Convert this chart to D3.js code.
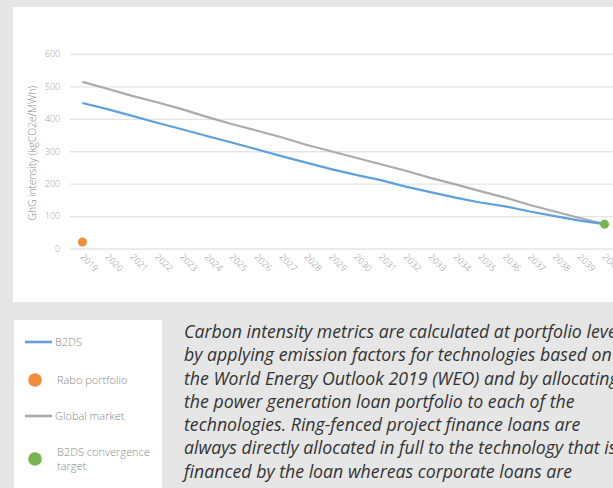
<!DOCTYPE html>
<html>
<head>
<meta charset="utf-8">
<script src="https://cdn.jsdelivr.net/npm/d3@7"></script>
<style>
  body { margin: 0; background: #e6e6e6; overflow: hidden; }
  svg { display: block; }
</style>
</head>
<body>
<div id="graphDiv"></div>
<script>
var years = [2019, 2020, 2021, 2022, 2023, 2024, 2025, 2026, 2027, 2028, 2029,
             2030, 2031, 2032, 2033, 2034, 2035, 2036, 2037, 2038, 2039, 2040];
var b2ds = [449, 430, 409, 388, 368, 347, 327, 306, 285, 265, 245,
            227, 211, 191, 174, 157, 142, 130, 114, 100, 86, 75];
var globalMarket = [514, 493, 471, 451, 430, 406, 384, 364, 343, 320, 300,
                    280, 260, 240, 218, 198, 177, 157, 134, 114, 94, 75];
var raboPortfolio = [{year: 2019, value: 20}];
var convergenceTarget = [{year: 2040, value: 75}];
var yTicks = [0, 100, 200, 300, 400, 500, 600];

var legendItems = [
  {label: ["B2DS"], kind: "line", color: "#5ea1dc"},
  {label: ["Rabo portfolio"], kind: "dot", color: "#f28d3b"},
  {label: ["Global market"], kind: "line", color: "#ababab"},
  {label: ["B2DS convergence", "target"], kind: "dot", color: "#78b54e"}
];

var bodyLines = [
  "Carbon intensity metrics are calculated at portfolio level",
  "by applying emission factors for technologies based on",
  "the World Energy Outlook 2019 (WEO) and by allocating",
  "the power generation loan portfolio to each of the",
  "technologies. Ring-fenced project finance loans are",
  "always directly allocated in full to the technology that is",
  "financed by the loan whereas corporate loans are"
];

var W = 613, H = 488;
var plot = {left: 70, right: 617, top: 54, bottom: 248.5};

var svg = d3.select("#graphDiv")
  .append("svg")
    .attr("width", W)
    .attr("height", H);

// white chart panel
svg.append("rect")
  .attr("x", 13).attr("y", 7)
  .attr("width", W).attr("height", 295)
  .attr("fill", "#ffffff");

var x = d3.scalePoint()
  .domain(years)
  .range([plot.left, plot.right])
  .padding(0.5);

var y = d3.scaleLinear()
  .domain([0, 600])
  .range([plot.bottom, plot.top]);

// gridlines + y labels
var yAxis = svg.append("g")
  .attr("transform", "translate(" + plot.left + ",0)")
  .call(d3.axisLeft(y).tickValues(yTicks).tickSize(-(W - plot.left)).tickPadding(10))
  .call(function(g) { g.select(".domain").remove(); });

yAxis.selectAll(".tick line")
  .attr("stroke", "#e4e4e4")
  .attr("stroke-width", 1.3);
yAxis.selectAll(".tick text")
  .attr("fill", "#9c9c9c")
  .style("font-family", "'Open Sans', sans-serif")
  .style("font-weight", 300)
  .style("font-size", "8.8px");

// x labels, rotated
var xAxis = svg.append("g")
  .attr("transform", "translate(0," + plot.bottom + ")")
  .call(d3.axisBottom(x).tickSize(0).tickPadding(0))
  .call(function(g) { g.select(".domain").remove(); });

xAxis.selectAll(".tick text")
  .attr("fill", "#929292")
  .style("font-family", "'Open Sans', sans-serif")
  .style("font-weight", 300)
  .style("font-size", "9px")
  .attr("text-anchor", "start")
  .attr("dy", "0")
  .attr("transform", "translate(-3,9) rotate(45)");

// Y label
svg.append("text")
  .attr("transform", "translate(36," + ((plot.top + plot.bottom) / 2 + 2) + ") rotate(-90)")
  .attr("text-anchor", "middle")
  .attr("fill", "#8a8a8a")
  .style("font-family", "'Open Sans', sans-serif")
  .style("font-weight", 300)
  .style("font-size", "10.3px")
  .text("GhG intensity (kgCO2e/MWh)");

// lines
var line = d3.line()
  .x(function(d, i) { return x(years[i]); })
  .y(function(d) { return y(d); });

svg.append("path")
  .datum(globalMarket)
  .attr("d", line)
  .attr("fill", "none")
  .attr("stroke", "#ababab")
  .attr("stroke-width", 2.2);

svg.append("path")
  .datum(b2ds)
  .attr("d", line)
  .attr("fill", "none")
  .attr("stroke", "#5ea1dc")
  .attr("stroke-width", 2.2);

// dots
svg.selectAll(".rabo")
  .data(raboPortfolio)
  .enter()
  .append("circle")
    .attr("cx", function(d) { return x(d.year); })
    .attr("cy", function(d) { return y(d.value); })
    .attr("r", 4.5)
    .attr("fill", "#f28d3b");

svg.selectAll(".target")
  .data(convergenceTarget)
  .enter()
  .append("circle")
    .attr("cx", function(d) { return x(d.year); })
    .attr("cy", function(d) { return y(d.value); })
    .attr("r", 4.5)
    .attr("fill", "#78b54e");

// legend box
svg.append("rect")
  .attr("x", 14).attr("y", 320)
  .attr("width", 148).attr("height", 180)
  .attr("fill", "#ffffff");

var legendY = [342, 380, 416, 459];
var legend = svg.selectAll(".legendItem")
  .data(legendItems)
  .enter()
  .append("g")
    .attr("transform", function(d, i) { return "translate(0," + legendY[i] + ")"; });

legend.filter(function(d) { return d.kind == "line"; })
  .append("line")
    .attr("x1", 25).attr("x2", 52)
    .attr("stroke", function(d) { return d.color; })
    .attr("stroke-width", 2.6);

legend.filter(function(d) { return d.kind == "dot"; })
  .append("circle")
    .attr("cx", 35)
    .attr("r", 6.8)
    .attr("fill", function(d) { return d.color; });

legend.append("text")
  .attr("fill", "#8a8a8a")
  .style("font-family", "'Open Sans', sans-serif")
  .style("font-weight", 300)
  .style("font-size", "11px")
  .attr("x", function(d) { return d.kind == "line" ? 55 : 57; })
  .attr("y", function(d) { return d.label.length > 1 ? -3.5 : 3.8; })
  .selectAll("tspan")
  .data(function(d) { return d.label; })
  .enter()
  .append("tspan")
    .attr("x", function() { return d3.select(this.parentNode).attr("x"); })
    .attr("dy", function(d, i) { return i == 0 ? 0 : 14.5; })
    .text(function(d) { return d; });

// body text next to legend
var body = svg.append("g")
  .attr("transform", "translate(184,0) scale(0.985,1)");

body.selectAll("text")
  .data(bodyLines)
  .enter()
  .append("text")
    .attr("x", 0)
    .attr("y", function(d, i) { return 338 + i * 23.3; })
    .attr("fill", "#333333")
    .style("font-family", "'Open Sans', sans-serif")
    .style("font-style", "italic")
    .style("font-weight", 400)
    .style("font-size", "18px")
    .text(function(d) { return d; });
</script>
</body>
</html>
